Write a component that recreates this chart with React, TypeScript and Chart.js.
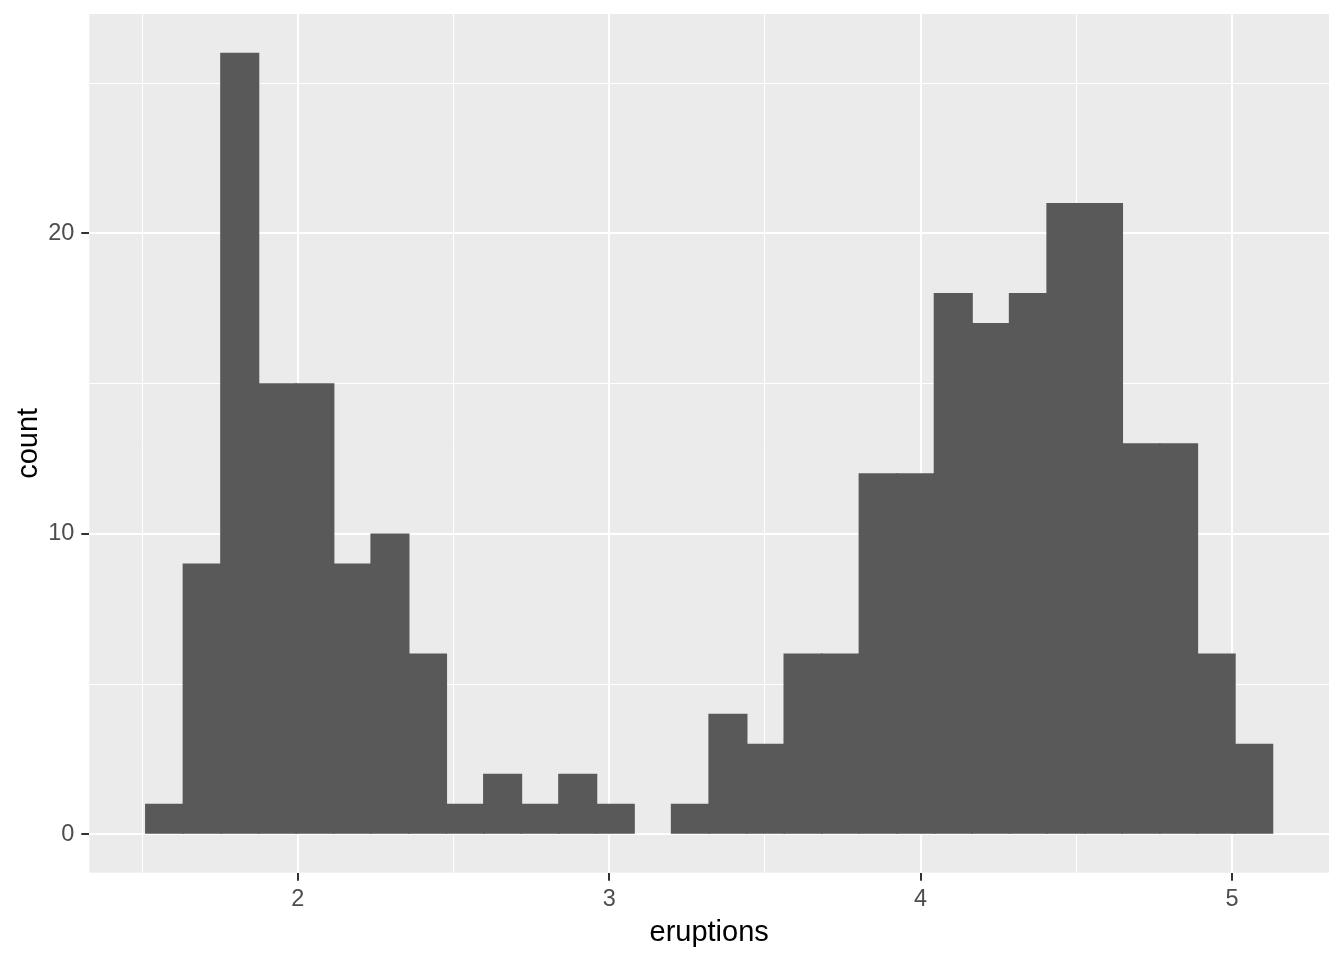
import React, { useEffect, useRef } from "react";
import { Chart, registerables } from "chart.js";

Chart.register(...registerables);

// Histogram of faithful$eruptions, 30 bins
const binStart = 1.512;
const binWidth = 0.1206;
const counts = [1, 9, 26, 15, 15, 9, 10, 6, 1, 2, 1, 2, 1, 0, 1, 4, 3, 6, 6, 12, 12, 18, 17, 18, 21, 21, 13, 13, 6, 3];
const xMajorTicks = [2, 3, 4, 5];
const xMinorTicks = [1.5, 2.5, 3.5, 4.5];
const yMajorTicks = [0, 10, 20];
const yMinorTicks = [5, 15, 25];
const xRange = [1.3304, 5.3115];
const yRange = [-1.28, 27.3];
const xTitle = "eruptions";
const yTitle = "count";

const FONT = "'Liberation Sans', Arial, sans-serif";
const BAR = "#595959";

export default function App() {
  const ref = useRef<HTMLCanvasElement | null>(null);

  useEffect(() => {
    if (!ref.current) return;
    const data = counts.map((c, i) => ({ x: binStart + binWidth * (i + 0.5), y: c === 0 ? null : c }));
    const isMajor = (v: number, majors: number[]) => majors.some((m) => Math.abs(m - v) < 1e-9);

    const bgPlugin = {
      id: "panelBg",
      beforeDraw(chart: any) {
        const { ctx, chartArea } = chart;
        ctx.save();
        ctx.fillStyle = "#EBEBEB";
        ctx.fillRect(chartArea.left, chartArea.top, chartArea.right - chartArea.left, chartArea.bottom - chartArea.top);
        ctx.restore();
      },
    };

    const chart = new Chart(ref.current, {
      type: "bar",
      data: {
        datasets: [
          {
            data: data as any,
            backgroundColor: BAR,
            borderColor: BAR,
            borderWidth: 0,
            barPercentage: 1.02,
            categoryPercentage: 1,
            inflateAmount: 0.4,
          } as any,
        ],
      },
      options: {
        animation: false,
        responsive: false,
        maintainAspectRatio: false,
        layout: { padding: { left: 0, top: 14, right: 15, bottom: 0 } },
        plugins: {
          legend: { display: false },
          tooltip: { enabled: false },
        },
        scales: {
          x: {
            type: "linear",
            min: xRange[0],
            max: xRange[1],
            offset: false,
            afterBuildTicks: (scale: any) => {
              scale.ticks = [...xMinorTicks, ...xMajorTicks].sort((a, b) => a - b).map((v) => ({ value: v }));
            },
            afterFit: (scale: any) => {
              scale.height = 87.3;
              scale.paddingLeft = 0;
              scale.paddingRight = 0;
              scale.paddingTop = 0;
              scale.paddingBottom = 0;
            },
            grid: {
              offset: false,
              color: "#FFFFFF",
              lineWidth: (ctx: any) => (isMajor(ctx.tick?.value, xMajorTicks) ? 2 : 1),
              drawTicks: true,
              tickLength: 8,
              tickWidth: 2,
              tickColor: (ctx: any) => (isMajor(ctx.tick?.value, xMajorTicks) ? "#333333" : "rgba(0,0,0,0)"),
            },
            border: { display: false },
            ticks: {
              autoSkip: false,
              maxRotation: 0,
              minRotation: 0,
              padding: 5,
              color: "#4D4D4D",
              font: { family: FONT, size: 23.5 },
              callback: (v: any) => (isMajor(Number(v), xMajorTicks) ? String(v) : ""),
            },
            title: {
              display: true,
              text: xTitle,
              color: "#000000",
              font: { family: FONT, size: 29, lineHeight: 1.2 },
              padding: { top: 0, bottom: 9.6 },
            },
          },
          y: {
            type: "linear",
            min: yRange[0],
            max: yRange[1],
            afterBuildTicks: (scale: any) => {
              scale.ticks = [...yMinorTicks, ...yMajorTicks].sort((a, b) => a - b).map((v) => ({ value: v }));
            },
            afterFit: (scale: any) => {
              scale.width = 89.3;
              scale.paddingLeft = 0;
              scale.paddingRight = 0;
              scale.paddingTop = 0;
              scale.paddingBottom = 0;
            },
            grid: {
              color: "#FFFFFF",
              lineWidth: (ctx: any) => (isMajor(ctx.tick?.value, yMajorTicks) ? 2 : 1),
              drawTicks: true,
              tickLength: 8,
              tickWidth: 2,
              tickColor: (ctx: any) => (isMajor(ctx.tick?.value, yMajorTicks) ? "#333333" : "rgba(0,0,0,0)"),
            },
            border: { display: false },
            ticks: {
              autoSkip: false,
              padding: 7,
              color: "#4D4D4D",
              font: { family: FONT, size: 23.5 },
              callback: (v: any) => (isMajor(Number(v), yMajorTicks) ? String(v) : ""),
            },
            title: {
              display: true,
              text: yTitle,
              color: "#000000",
              font: { family: FONT, size: 29, lineHeight: 1.2 },
              padding: { top: 11.7, bottom: 0 },
            },
          },
        },
      } as any,
      plugins: [bgPlugin],
    });
    return () => chart.destroy();
  }, []);

  return (
    <div style={{ position: "fixed", left: 0, top: 0, width: 1344, height: 960, background: "#FFFFFF" }}>
      <canvas ref={ref} width={1344} height={960} style={{ display: "block", width: 1344, height: 960 }} />
    </div>
  );
}
